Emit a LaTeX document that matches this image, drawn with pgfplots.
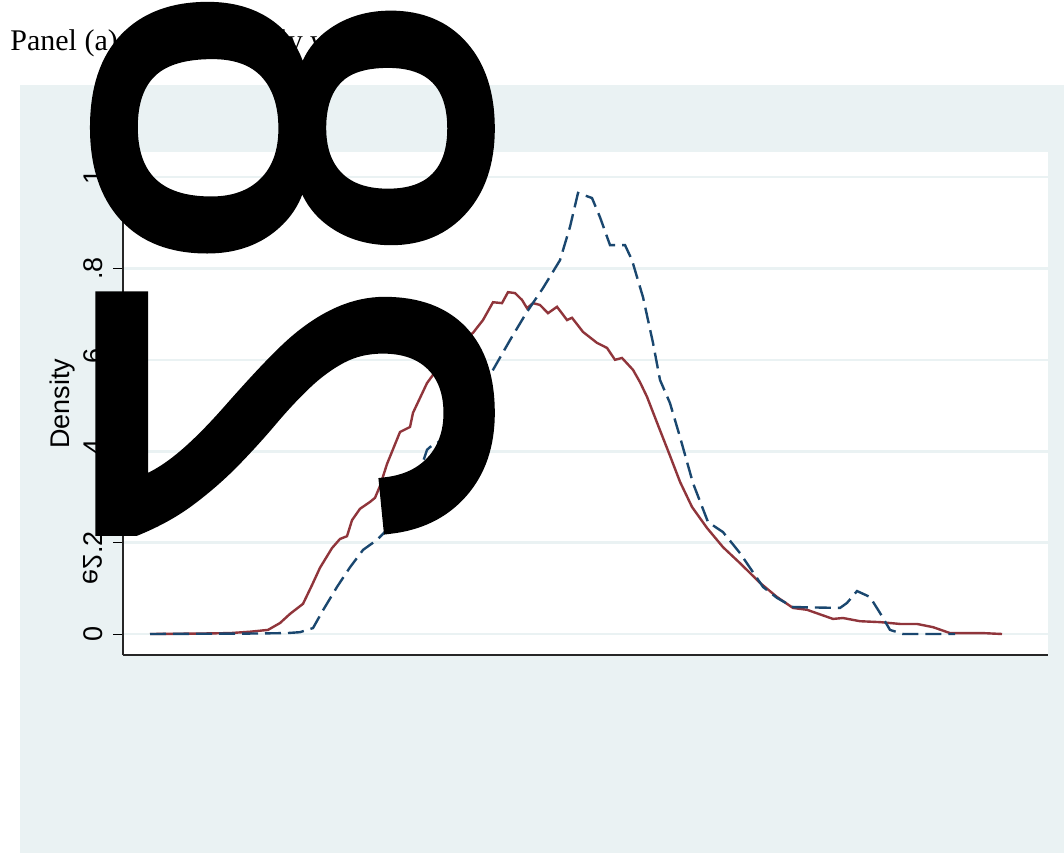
\documentclass[border=0pt]{standalone}
\usepackage{pgfplots}
\pgfplotsset{compat=1.18}
\usepackage{fontspec}
\setmainfont{Liberation Sans}
\newfontfamily\serifttl{Liberation Serif}
\newfontfamily\bigfont[FakeBold=2]{Liberation Sans}
\definecolor{bgc}{HTML}{EAF2F3}
\definecolor{sred}{HTML}{90353B}
\definecolor{sblue}{HTML}{1A476F}
\begin{document}
\begin{tikzpicture}
\useasboundingbox (0,0) rectangle (532bp,-426.5bp);
\fill[bgc] (10bp,-42.5bp) rectangle (532bp,-426.5bp);
\node[anchor=base west, inner sep=0pt, font=\serifttl\fontsize{15bp}{18bp}\selectfont] at (5bp,-25bp) {Panel (a): Log of hourly wages};
\begin{axis}[
  at={(61.5bp,-327.5bp)}, anchor=south west,
  scale only axis, width=462.5bp, height=251.5bp,
  xmin=123, xmax=1048, ymin=-0.04595, ymax=1.0547,
  axis background/.style={fill=white},
  axis lines*=left,
  axis line style={black!85, line width=0.7bp},
  xtick=\empty,
  ytick={0,0.2,0.4,0.6,0.8,1},
  yticklabels={0,.2,.4,.6,.8,1},
  tick align=outside, major tick length=5bp,
  ytick style={black, line width=0.5bp},
  ymajorgrids, grid style={bgc, line width=1.3bp},
  tick label style={font=\fontsize{13.5bp}{16bp}\selectfont},
  yticklabel style={rotate=90, anchor=base, inner sep=0pt},
  yticklabel shift=5.5bp,
  ylabel={Density},
  ylabel style={at={(axis description cs:-0.0649,0.5)}, anchor=center, font=\fontsize{13.5bp}{16bp}\selectfont},
  clip=false,
]
\addplot[sred, line width=1.2bp] coordinates {
(150,0) (200,0.001) (230,0.002) (250,0.005) (268,0.009) (280,0.024) (290,0.044)
(303,0.066) (312,0.107) (320,0.145) (332,0.188) (340,0.208) (347,0.214) (352,0.249)
(360,0.274) (370,0.289) (375,0.298) (380,0.324) (387,0.372) (400,0.442) (410,0.453)
(413,0.484) (427,0.549) (438,0.582) (447,0.600) (453,0.626) (473,0.659) (483,0.687)
(493,0.726) (502,0.724) (508,0.748) (515,0.746) (522,0.731) (527,0.713) (533,0.724)
(540,0.720) (548,0.702) (557,0.716) (567,0.687) (572,0.692) (583,0.661) (597,0.637)
(607,0.626) (615,0.600) (622,0.604) (633,0.578) (640,0.551) (647,0.519) (658,0.457)
(670,0.390) (680,0.333) (692,0.278) (707,0.232) (723,0.190) (740,0.155) (760,0.112)
(777,0.081) (793,0.057) (807,0.053) (833,0.033) (843,0.035) (860,0.028) (880,0.026)
(900,0.022) (917,0.022) (933,0.015) (950,0.002) (983,0.002) (1002,0)
};
\addplot[sblue, line width=1.2bp, dash pattern=on 8bp off 3.5bp] coordinates {
(150,0) (250,0.001) (287,0.002) (300,0.004) (313,0.013) (323,0.052) (337,0.103)
(350,0.146) (363,0.184) (377,0.206) (387,0.228) (400,0.261) (410,0.304) (417,0.337)
(427,0.403) (430,0.409) (447,0.431) (457,0.462) (475,0.519) (493,0.578) (510,0.643)
(527,0.705) (543,0.757) (560,0.818) (570,0.891) (578,0.965) (592,0.954) (600,0.912)
(610,0.851) (625,0.851) (632,0.818) (643,0.737) (653,0.637) (660,0.556) (670,0.505)
(680,0.431) (693,0.330) (708,0.245) (723,0.223) (740,0.177) (763,0.103) (777,0.079)
(793,0.059) (840,0.057) (847,0.068) (857,0.094) (870,0.081) (880,0.046) (890,0.009)
(903,0) (955,0)
};
\end{axis}
\node[anchor=base west, inner sep=0pt, font=\fontsize{13.5bp}{16bp}\selectfont, cm={0,1,1,0,(0,0)}] at (41.5bp,-292.5bp) {e2};
\node[anchor=base west, inner sep=0pt, font=\bigfont\fontsize{278bp}{300bp}\selectfont, cm={0,0.925,1,0,(0,0)}] at (50.5bp,-278.5bp) {28};
\end{tikzpicture}
\end{document}
